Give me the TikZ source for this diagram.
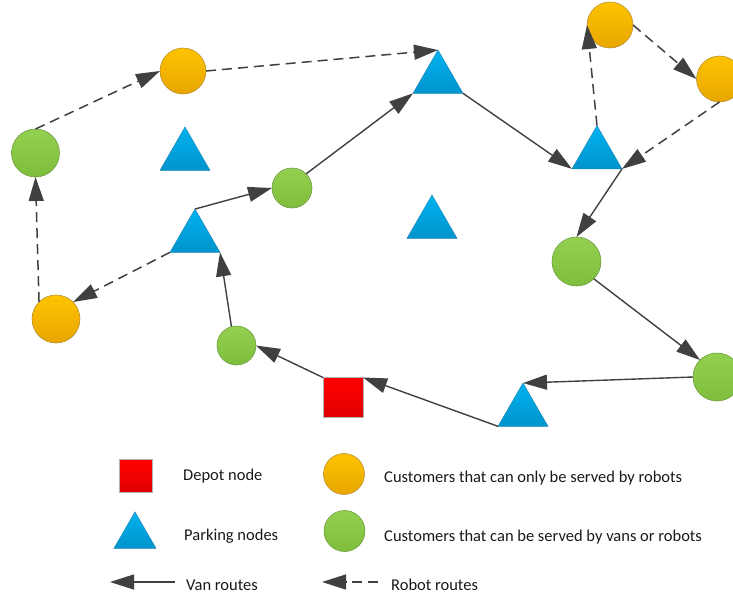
\documentclass[tikz,border=0pt]{standalone}
\usepackage{fontspec}
\setmainfont{Carlito}
\usetikzlibrary{arrows.meta,shapes.geometric}

\definecolor{routegray}{HTML}{404040}
\definecolor{orangetop}{HTML}{FFC300}
\definecolor{orangebot}{HTML}{E8A600}
\definecolor{orangeedge}{HTML}{B89038}
\definecolor{greentop}{HTML}{94D050}
\definecolor{greenbot}{HTML}{7EBE3C}
\definecolor{greenedge}{HTML}{6E9E40}
\definecolor{bluetop}{HTML}{00B2F0}
\definecolor{bluebot}{HTML}{0094CC}
\definecolor{blueedge}{HTML}{1A88B8}
\definecolor{redtop}{HTML}{FF0000}
\definecolor{redbot}{HTML}{E00000}

\tikzset{
  robotcust/.style={circle, inner sep=0pt, outer sep=0pt, minimum size=46pt,
    draw=orangeedge, line width=0.6pt, top color=orangetop, bottom color=orangebot},
  vancust/.style={circle, inner sep=0pt, outer sep=0pt, minimum size=46pt,
    draw=greenedge, line width=0.6pt, top color=greentop, bottom color=greenbot},
  parking/.style={regular polygon, regular polygon sides=3, inner sep=0pt, outer sep=0pt,
    minimum size=57.7pt, draw=blueedge, line width=0.5pt, top color=bluetop, bottom color=bluebot},
  depot/.style={rectangle, inner sep=0pt, outer sep=0pt, minimum size=40pt,
    draw=gray!60, line width=0.6pt, top color=redtop, bottom color=redbot},
  vanroute/.style={draw=routegray, line width=1.4pt,
    -{Triangle[length=24pt,width=15pt]}},
  robotroute/.style={vanroute, line width=1.5pt, dash pattern=on 10pt off 6pt},
  lbl/.style={anchor=base west, inner sep=0pt, text=black!90,
    font=\fontsize{16.5}{20}\selectfont},
}

\begin{document}
\begin{tikzpicture}[x=1pt, y=-1pt]
\useasboundingbox (0,0) rectangle (733,597);

% parking nodes
\node[parking] (T1) at (185,155.9) {};
\node[parking] (T2) at (195,237.9) {};
\node[parking] (T3) at (438,78.9) {};
\node[parking] (T4) at (432,223.9) {};
\node[parking] (T5) at (597,154.5) {};
\node[parking] (T6) at (523,411.9) {};

% customers served only by robots
\node[robotcust] (O1) at (183,71) {};
\node[robotcust, minimum size=48pt] (O2) at (56,319) {};
\node[robotcust] (O3) at (610,25) {};
\node[robotcust] (O4) at (719.5,79) {};

% customers served by vans or robots
\node[vancust, minimum size=48pt] (G1) at (35.5,153) {};
\node[vancust, minimum size=40pt] (G2) at (292,188) {};
\node[vancust, minimum size=49pt] (G3) at (576.5,261.5) {};
\node[vancust, minimum size=48pt] (G4) at (717,377) {};
\node[vancust, minimum size=39pt] (G5) at (236.5,345.5) {};

% depot
\node[depot] (D) at (343,397.5) {};

% van routes
\draw[vanroute] (T6.corner 2) -- (D.north east);
\draw[vanroute] (D.north west) -- (G5.east);
\draw[vanroute] (G5.105) -- (T2.corner 3);
\draw[vanroute] (T2.corner 1) -- (G2.west);
\draw[vanroute] (G2.north east) -- (T3.corner 2);
\draw[vanroute] (T3.corner 3) -- (T5.corner 2);
\draw[vanroute] (T5.corner 3) -- (G3.north);
\draw[vanroute] (G3.south east) -- (G4.north west);
\draw[vanroute] (G4.west) -- (T6.corner 1);

% robot routes
\draw[robotroute] (T2.corner 2) -- (O2.north east);
\draw[robotroute] (O2.north west) -- (G1.south);
\draw[robotroute] (G1.north) -- (O1.west);
\draw[robotroute] (O1.east) -- (T3.corner 1);
\draw[robotroute] (T5.corner 1) -- (O3.west);
\draw[robotroute] (O3.east) -- (O4.west);
\draw[robotroute] (O4.south) -- (T5.corner 3);

% legend
\node[depot, minimum size=33pt] (LD) at (135.5,476) {};
\node[parking, minimum size=48.5pt] (LP) at (135,536.2) {};
\coordinate (LVs) at (175,582);
\coordinate (LVe) at (110,582);
\draw[vanroute] (LVs) -- (LVe);
\node[robotcust, minimum size=41pt] (LO) at (344,474) {};
\node[vancust, minimum size=41pt] (LG) at (344.5,531) {};
\coordinate (LRs) at (378,582);
\coordinate (LRe) at (322,582);
\draw[robotroute] (LRs) -- (LRe);

\node[lbl] (tD) at (183,480.5) {Depot node};
\node[lbl] (tP) at (184,540.5) {Parking nodes};
\node[lbl] (tV) at (186,590) {Van routes};
\node[lbl] (tO) at (384,482) {Customers that can only be served by robots};
\node[lbl] (tG) at (384,541) {Customers that can be served by vans or robots};
\node[lbl] (tR) at (391,590) {Robot routes};
\end{tikzpicture}
\end{document}
